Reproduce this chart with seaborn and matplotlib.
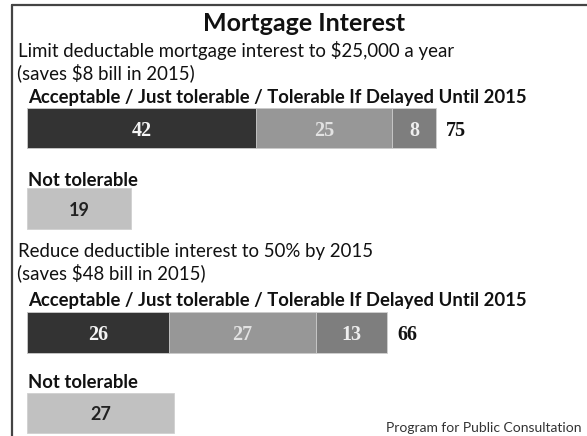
import numpy as np
import matplotlib
matplotlib.use("Agg")
import matplotlib.pyplot as plt
import seaborn as sns
from matplotlib.lines import Line2D

# ---------------- data ----------------
title = "Mortgage Interest"
q1_lines = ["Limit deductable mortgage interest to $25,000 a year",
            "(saves $8 bill in 2015)"]
q2_lines = ["Reduce deductible interest to 50% by 2015",
            "(saves $48 bill in 2015)"]
accept_label = "Acceptable / Just tolerable / Tolerable If Delayed Until 2015"
not_label = "Not tolerable"
segments = ["Acceptable", "Just tolerable", "Tolerable If Delayed Until 2015"]
q1_values = [42, 25, 8]
q1_not = 19
q2_values = [26, 27, 13]
q2_not = 27
source = "Program for Public Consultation"

# ---------------- style ----------------
seg_colors = ["#333333", "#979797", "#7e7e7e"]
seg_text_colors = ["#f4f4f4", "#e2e2e2", "#eeeeee"]
not_color = "#c1c1c1"
sns.set_style("white")
plt.rcParams["font.family"] = ["Lato", "DejaVu Sans"]

W, H = 587, 436
fig = plt.figure(figsize=(W / 100, H / 100), dpi=100)
fig.patch.set_facecolor("white")


def fx(x):
    return x / W


def fy(y):
    return 1 - y / H


cats = ["accept", "not"]
PX_PER_UNIT = 5.45


def make_axes(center_top):
    band = 80.5
    top = center_top - band / 2
    bottom = top + 2 * band
    ax = fig.add_axes([fx(27), fy(bottom), 100 * PX_PER_UNIT / W, 2 * band / H])
    return ax


def draw(ax, values, notv):
    cum = np.cumsum(values)
    for i in reversed(range(len(values))):
        sns.barplot(x=[cum[i]], y=[cats[0]], order=cats, orient="h",
                    color=seg_colors[i], saturation=1, width=0.5, ax=ax,
                    edgecolor="#d0d0d0", linewidth=0.6)
    sns.barplot(x=[notv], y=[cats[1]], order=cats, orient="h",
                color=not_color, saturation=1, width=0.5, ax=ax,
                edgecolor="#d0d0d0", linewidth=0.6)
    for i, v in enumerate(values):
        ax.text(cum[i] - v / 2, 0, str(v), ha="center", va="center_baseline",
                color=seg_text_colors[i], fontsize=14.5, fontweight="bold",
                family="Liberation Serif")
    ax.annotate(str(cum[-1]), xy=(cum[-1], 0), xytext=(7.5, 0),
                textcoords="offset points", ha="left", va="center_baseline",
                color="#111111", fontsize=14.5, fontweight="bold",
                family="Liberation Serif")
    ax.text(notv / 2, 1, str(notv), ha="center", va="center_baseline",
            color="#222222", fontsize=13, fontweight="bold")
    ax.set_xlim(0, 100)
    ax.set_ylim(1.5, -0.5)
    ax.axis("off")


ax1 = make_axes(128)
draw(ax1, q1_values, q1_not)
ax2 = make_axes(332.5)
draw(ax2, q2_values, q2_not)

# ---------------- texts ----------------
fig.text(fx(304), fy(31), title, ha="center", va="baseline",
         fontsize=18, fontweight="bold", color="#111111")
fig.text(fx(18), fy(57), q1_lines[0], ha="left", va="baseline",
         fontsize=13.4, color="#111111")
fig.text(fx(17), fy(79), q1_lines[1], ha="left", va="baseline",
         fontsize=13.4, color="#111111")
fig.text(fx(28), fy(103), accept_label, ha="left", va="baseline",
         fontsize=13.3, fontweight="bold", color="#111111")
fig.text(fx(28), fy(186), not_label, ha="left", va="baseline",
         fontsize=13.3, fontweight="bold", color="#111111")

fig.text(fx(18), fy(257), q2_lines[0], ha="left", va="baseline",
         fontsize=13.4, color="#111111")
fig.text(fx(17), fy(279), q2_lines[1], ha="left", va="baseline",
         fontsize=13.4, color="#111111")
fig.text(fx(28), fy(306), accept_label, ha="left", va="baseline",
         fontsize=13.3, fontweight="bold", color="#111111")
fig.text(fx(28), fy(388), not_label, ha="left", va="baseline",
         fontsize=13.3, fontweight="bold", color="#111111")

fig.text(fx(582), fy(432), source, ha="right", va="baseline",
         fontsize=10, color="#333333")

# ---------------- frame ----------------
fig.add_artist(Line2D([fx(12), fx(12)], [fy(5), 0], color="#444444", lw=1.6,
                      transform=fig.transFigure))
fig.add_artist(Line2D([fx(12), 1], [fy(5), fy(5)], color="#444444", lw=1.6,
                      transform=fig.transFigure))

fig.savefig("out.png", dpi=100)
